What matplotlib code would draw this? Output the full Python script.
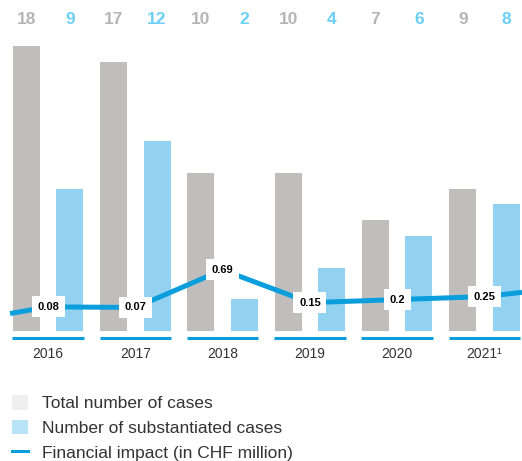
import matplotlib
matplotlib.use("Agg")
import matplotlib.pyplot as plt
from matplotlib.patches import Patch
from matplotlib.lines import Line2D
import numpy as np

plt.rcParams["font.family"] = ["Liberation Sans", "DejaVu Sans"]

# Data
years = ["2016", "2017", "2018", "2019", "2020", "2021\u00b9"]
total_cases = [18, 17, 10, 10, 7, 9]
substantiated_cases = [9, 12, 2, 4, 6, 8]
financial_impact = [0.08, 0.07, 0.69, 0.15, 0.2, 0.25]
impact_labels = ["0.08", "0.07", "0.69", "0.15", "0.2", "0.25"]
# the line runs on past the first and last year
impact_lead_in = -0.03
impact_lead_out = 0.32

# Colours
gray_bar = "#c0bebc"
blue_bar = "#93d1f0"
gray_text = "#b5b5b5"
blue_text = "#6ccff6"
line_blue = "#0a9fdc"

fig = plt.figure(figsize=(5.22, 4.61), dpi=100)
ax = fig.add_axes([0, 0.2826, 1, 0.7174])

x = np.arange(len(years))
offset = 0.249
width = 0.309

ax.bar(x - offset, total_cases, width, color=gray_bar, zorder=1)
ax.bar(x + offset, substantiated_cases, width, color=blue_bar, zorder=1)

ax.set_xlim(-0.55, 5.43)
ax.set_ylim(0, 20.93)

# value labels at the top
for i in range(len(years)):
    ax.text(x[i] - offset, 19.7, str(total_cases[i]), ha="center", va="center",
            fontsize=12.5, fontweight="bold", color=gray_text)
    ax.text(x[i] + offset, 19.7, str(substantiated_cases[i]), ha="center", va="center",
            fontsize=12.5, fontweight="bold", color=blue_text)

# blue segments under each year and year labels
for i in range(len(years)):
    ax.plot([x[i] - 0.41, x[i] + 0.41], [-0.46, -0.46], color=line_blue, lw=2.2,
            clip_on=False, solid_capstyle="butt")
    ax.text(x[i], -1.47, years[i], ha="center", va="center", fontsize=10, color="#333333")

for s in ax.spines.values():
    s.set_visible(False)
ax.set_xticks([])
ax.set_yticks([])

# financial impact line on its own scale
ax2 = ax.twinx()
ax2.set_ylim(-0.3135, 5.143)
ax2.set_xlim(ax.get_xlim())
line_x = np.concatenate([[-0.435], x, [5.43]])
line_y = [impact_lead_in] + financial_impact + [impact_lead_out]
ax2.plot(line_x, line_y, color=line_blue, lw=3.6, solid_capstyle="butt", zorder=2)
for i in range(len(years)):
    ax2.text(x[i], financial_impact[i], impact_labels[i], ha="center", va="center",
             fontsize=8, fontweight="bold", color="black", zorder=3,
             bbox=dict(boxstyle="square,pad=0.5", fc="white", ec="none"))
for s in ax2.spines.values():
    s.set_visible(False)
ax2.set_yticks([])

# legend
handles = [
    Patch(facecolor="#efefef", edgecolor="none"),
    Patch(facecolor="#b9e3f7", edgecolor="none"),
    Line2D([0], [0], color=line_blue, lw=2.2),
]
labels = ["Total number of cases", "Number of substantiated cases",
          "Financial impact (in CHF million)"]
fig.legend(handles, labels, loc="upper left", bbox_to_anchor=(0.023, 0.143),
           frameon=False, fontsize=12.5, handlelength=0.92, handleheight=0.92,
           handletextpad=0.8, labelspacing=0.48, borderpad=0, borderaxespad=0,
           labelcolor="#333333")

fig.savefig("out.png", dpi=100)
